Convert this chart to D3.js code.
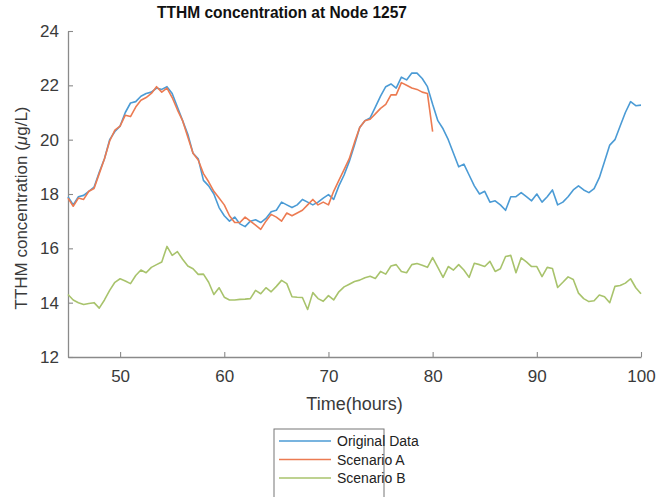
<!doctype html>
<html>
<head>
<meta charset="utf-8">
<title>TTHM</title>
<style>
  body { margin: 0; background: #fff; }
  text { font-family: "Liberation Sans", Arial, sans-serif; }
</style>
<script src="https://cdn.jsdelivr.net/npm/d3@7"></script>
</head>
<body>
<script>
// time grid (hours), half-hour steps
var hours = d3.range(45, 100.25, 0.5);

var original = [
  17.9, 17.6, 17.9, 17.95, 18.1, 18.25, 18.8, 19.3, 20.0, 20.3,
  20.5, 21.0, 21.35, 21.4, 21.6, 21.7, 21.75, 21.9, 21.85, 21.95,
  21.7, 21.2, 20.7, 20.2, 19.5, 19.3, 18.5, 18.3, 18.0, 17.5,
  17.2, 17.0, 17.15, 16.9, 16.8, 17.0, 17.05, 16.95, 17.1, 17.35,
  17.4, 17.7, 17.6, 17.5, 17.6, 17.8, 17.7, 17.6, 17.7, 17.85,
  17.98, 17.8, 18.3, 18.7, 19.2, 19.8, 20.45, 20.7, 20.8, 21.2,
  21.6, 21.95, 22.05, 21.9, 22.3, 22.2, 22.45, 22.45, 22.25, 21.95,
  21.3, 20.7, 20.4, 20.0, 19.5, 19.0, 19.1, 18.7, 18.3, 18.0,
  18.1, 17.7, 17.75, 17.6, 17.4, 17.9, 17.9, 18.05, 17.9, 17.75,
  18.0, 17.7, 17.9, 18.15, 17.6, 17.7, 17.9, 18.15, 18.3, 18.15,
  18.05, 18.2, 18.6, 19.2, 19.8, 20.0, 20.5, 21.0, 21.4, 21.25,
  21.27
];

// Scenario A stops at 80 h
var scenarioA = [
  17.85, 17.55, 17.85, 17.8, 18.1, 18.2, 18.75, 19.3, 19.95, 20.35,
  20.5, 20.9, 20.85, 21.2, 21.45, 21.55, 21.7, 21.95, 21.75, 21.9,
  21.55, 21.1, 20.7, 20.1, 19.5, 19.25, 18.75, 18.45, 18.1, 17.85,
  17.6, 17.2, 16.95, 16.95, 17.15, 17.0, 16.85, 16.7, 17.0, 17.25,
  17.15, 17.0, 17.3, 17.2, 17.3, 17.4, 17.6, 17.8, 17.6, 17.7,
  17.6, 18.1, 18.5, 18.9, 19.3, 19.9, 20.45, 20.7, 20.75, 20.95,
  21.15, 21.3, 21.65, 21.65, 22.1, 22.0, 21.9, 21.85, 21.75, 21.7,
  20.3
];

var scenarioB = [
  14.3, 14.1, 14.0, 13.93, 13.97, 14.0, 13.8, 14.1, 14.45, 14.75,
  14.88, 14.8, 14.7, 15.0, 15.2, 15.1, 15.3, 15.4, 15.5, 16.07,
  15.74, 15.88, 15.6, 15.35, 15.25, 15.04, 15.05, 14.75, 14.3, 14.55,
  14.2, 14.1, 14.1, 14.12, 14.13, 14.15, 14.45, 14.33, 14.55, 14.4,
  14.6, 14.82, 14.7, 14.22, 14.2, 14.19, 13.75, 14.37, 14.15, 14.05,
  14.26, 14.1, 14.4, 14.58, 14.68, 14.78, 14.83, 14.92, 14.97, 14.89,
  15.15, 15.05, 15.35, 15.4, 15.15, 15.1, 15.4, 15.44, 15.38, 15.3,
  15.66, 15.3, 14.93, 15.33, 15.2, 15.4, 15.2, 14.93, 15.45, 15.4,
  15.33, 15.52, 15.15, 15.25, 15.7, 15.74, 15.1, 15.65, 15.5, 15.33,
  15.33, 14.96, 15.3, 15.26, 14.56, 14.75, 14.95, 14.85, 14.35, 14.15,
  14.04, 14.07, 14.28, 14.22, 14.0, 14.6, 14.63, 14.72, 14.88, 14.55,
  14.33
];

var xTicks = [50, 60, 70, 80, 90, 100];
var yTicks = [12, 14, 16, 18, 20, 22, 24];

var seriesNames = ["Original Data", "Scenario A", "Scenario B"];
var seriesColors = ["#4b9bd5", "#ec7b52", "#a8c36c"];
var seriesData = [original, scenarioA, scenarioB];

var W = 656, H = 497;
var margin = {left: 68, right: 15, top: 31, bottom: 140};

var svg = d3.select("body").append("svg")
    .attr("width", W)
    .attr("height", H);

var x = d3.scaleLinear().domain([45, 100]).range([margin.left, W - margin.right]);
var y = d3.scaleLinear().domain([12, 24]).range([H - margin.bottom, margin.top]);

var axisColor = "#8a8a8a";
var labelColor = "#3a3a3a";

// x axis (ticks pointing in)
var gx = svg.append("g")
    .attr("transform", "translate(0," + y(12) + ")")
    .call(d3.axisBottom(x).tickValues(xTicks).tickSize(-5).tickSizeOuter(0).tickPadding(13));

// y axis
var gy = svg.append("g")
    .attr("transform", "translate(" + x(45) + ",0)")
    .call(d3.axisLeft(y).tickValues(yTicks).tickSize(-5).tickSizeOuter(0).tickPadding(9));

[gx, gy].forEach(function(g) {
  g.select(".domain").attr("stroke", axisColor).attr("stroke-width", 1.3);
  g.selectAll(".tick line").attr("stroke", axisColor).attr("stroke-width", 1.1);
  g.selectAll(".tick text")
    .attr("fill", labelColor)
    .style("font-size", "17px")
    .style("font-family", "'Liberation Sans', Arial, sans-serif");
});

// lines
var line = d3.line()
    .x(function(d, i) { return x(hours[i]); })
    .y(function(d) { return y(d); });

seriesData.forEach(function(s, k) {
  svg.append("path")
    .datum(s)
    .attr("fill", "none")
    .attr("stroke", seriesColors[k])
    .attr("stroke-width", 1.6)
    .attr("stroke-linejoin", "round")
    .attr("d", line);
});

// title
svg.append("text")
    .attr("x", 282)
    .attr("y", 18)
    .attr("text-anchor", "middle")
    .attr("fill", "#111")
    .attr("textLength", 250)
    .attr("lengthAdjust", "spacingAndGlyphs")
    .style("font-size", "17px")
    .style("font-weight", "bold")
    .text("TTHM concentration at Node 1257");

// x label
svg.append("text")
    .attr("x", (x(45) + x(100)) / 2)
    .attr("y", 410)
    .attr("text-anchor", "middle")
    .attr("fill", labelColor)
    .style("font-size", "18px")
    .text("Time(hours)");

// y label
var yl = svg.append("text")
    .attr("transform", "translate(27," + 208 + ") rotate(-90)")
    .attr("text-anchor", "middle")
    .attr("fill", labelColor)
    .style("font-size", "17px");
yl.append("tspan").text("TTHM concentration (");
yl.append("tspan").style("font-style", "italic").text("\u03bc");
yl.append("tspan").text("g/L)");

// legend
var lg = svg.append("g").attr("transform", "translate(274,429)");
lg.append("rect")
    .attr("width", 110)
    .attr("height", 80)
    .attr("fill", "#fff")
    .attr("stroke", "#777")
    .attr("stroke-width", 1);

seriesNames.forEach(function(name, k) {
  var yy = 12 + k * 18.5;
  lg.append("line")
    .attr("x1", 5).attr("x2", 57)
    .attr("y1", yy).attr("y2", yy)
    .attr("stroke", seriesColors[k])
    .attr("stroke-width", 1.4);
  lg.append("text")
    .attr("x", 63)
    .attr("y", yy + 5)
    .attr("fill", "#222")
    .style("font-size", "14px")
    .text(name);
});
</script>
</body>
</html>
